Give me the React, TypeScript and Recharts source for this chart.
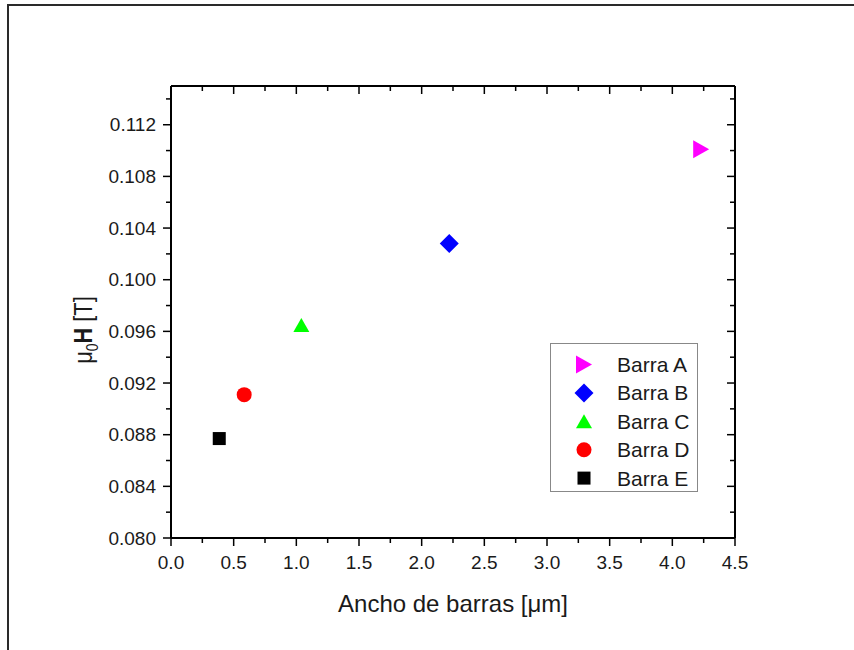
import React from "react";
import { ScatterChart, Scatter, XAxis, YAxis, Legend } from "recharts";

const seriesNames = ["Barra A", "Barra B", "Barra C", "Barra D", "Barra E"];
const seriesColors = ["#ff00ff", "#0000ff", "#00ff00", "#ff0000", "#000000"];
const seriesShapes = ["triangleRight", "diamond", "triangleUp", "circle", "square"];
const anchoBarras = [4.23, 2.22, 1.04, 0.584, 0.385];
const campoH = [0.1101, 0.1028, 0.0965, 0.0911, 0.0877];

const xMajorTicks = [0, 0.5, 1, 1.5, 2, 2.5, 3, 3.5, 4, 4.5];
const xMinorTicks = [0.25, 0.75, 1.25, 1.75, 2.25, 2.75, 3.25, 3.75, 4.25];
const yMajorTicks = [0.08, 0.084, 0.088, 0.092, 0.096, 0.1, 0.104, 0.108, 0.112];
const yMinorTicks = [0.082, 0.086, 0.09, 0.094, 0.098, 0.102, 0.106, 0.11, 0.114];
const xDomain: [number, number] = [0, 4.5];
const yDomain: [number, number] = [0.08, 0.115];

const xTitle = "Ancho de barras [\u03bcm]";

const FONT = "'Liberation Sans', Arial, Helvetica, sans-serif";
const TEXT = "#1a1a1a";
const MAJOR = 8;
const MINOR = 5;
const AXIS = { stroke: "#000", strokeWidth: 2 };

const allX = [...xMajorTicks, ...xMinorTicks].sort((a, b) => a - b);
const allY = [...yMajorTicks, ...yMinorTicks].sort((a, b) => a - b);
const isIn = (v: number, arr: number[]) => arr.some((t) => Math.abs(t - v) < 1e-9);

function Marker({ kind, cx, cy, color }: { kind: string; cx: number; cy: number; color: string }) {
  switch (kind) {
    case "triangleRight":
      return <polygon points={`${cx - 8},${cy - 9} ${cx + 8},${cy} ${cx - 8},${cy + 9}`} fill={color} />;
    case "diamond":
      return <polygon points={`${cx},${cy - 9.5} ${cx + 9.5},${cy} ${cx},${cy + 9.5} ${cx - 9.5},${cy}`} fill={color} />;
    case "triangleUp":
      return <polygon points={`${cx},${cy - 7} ${cx + 8},${cy + 7} ${cx - 8},${cy + 7}`} fill={color} />;
    case "circle":
      return <circle cx={cx} cy={cy} r={7.5} fill={color} />;
    default:
      return <rect x={cx - 6.5} y={cy - 6.5} width={13} height={13} fill={color} />;
  }
}

const BottomTick = (p: any) => {
  const { x, y, payload } = p;
  const major = isIn(payload.value, xMajorTicks);
  return (
    <g>
      <line x1={x} x2={x} y1={y} y2={y + (major ? MAJOR : MINOR)} stroke="#000" strokeWidth={1.5} />
      {major && (
        <text x={x} y={y + 31} textAnchor="middle" fontSize={19} fontFamily={FONT} fill={TEXT}>
          {Number(payload.value).toFixed(1)}
        </text>
      )}
    </g>
  );
};

const TopTick = (p: any) => {
  const { x, y, payload } = p;
  const major = isIn(payload.value, xMajorTicks);
  return (
    <g>
      <line x1={x} x2={x} y1={y} y2={y + (major ? MAJOR : MINOR)} stroke="#000" strokeWidth={1.5} />
    </g>
  );
};

const LeftTick = (p: any) => {
  const { x, y, payload } = p;
  const major = isIn(payload.value, yMajorTicks);
  return (
    <g>
      <line x1={x} x2={x - (major ? MAJOR : MINOR)} y1={y} y2={y} stroke="#000" strokeWidth={1.5} />
      {major && (
        <text x={x - 15} y={y + 6.5} textAnchor="end" fontSize={19} fontFamily={FONT} fill={TEXT}>
          {Number(payload.value).toFixed(3)}
        </text>
      )}
    </g>
  );
};

const RightTick = (p: any) => {
  const { x, y, payload } = p;
  const major = isIn(payload.value, yMajorTicks);
  return (
    <g>
      <line x1={x} x2={x - (major ? MAJOR : MINOR)} y1={y} y2={y} stroke="#000" strokeWidth={1.5} />
    </g>
  );
};

const XTitle = (props: any) => {
  const vb = props.viewBox || { x: 171, y: 538, width: 564, height: 60 };
  return (
    <text x={vb.x + vb.width / 2} y={vb.y + 74} textAnchor="middle" fontSize={24} fontFamily={FONT} fill={TEXT}>
      {xTitle}
    </text>
  );
};

const YTitle = (props: any) => {
  const vb = props.viewBox || { x: 71, y: 86, width: 100, height: 452 };
  const cx = vb.x + 21;
  const cy = vb.y + vb.height / 2 + 18;
  return (
    <g transform={`translate(${cx},${cy}) rotate(-90) scale(0.87,1)`}>
      <text x={0} y={0} textAnchor="middle" fontSize={25} fontFamily={FONT} fill={TEXT}>
        <tspan>{"\u03bc"}</tspan>
        <tspan fontSize={16} dy={6}>0</tspan>
        <tspan fontWeight="bold" dy={-6}>H</tspan>
        <tspan>{" [T]"}</tspan>
      </text>
    </g>
  );
};

const LegendBox = () => (
  <div
    style={{
      width: 148,
      height: 149,
      boxSizing: "border-box",
      border: "1px solid #888",
      background: "#fff",
    }}
  >
    <svg width={146} height={147} style={{ display: "block" }}>
      {seriesNames.map((name, i) => {
        const cy = 20.5 + 28.4 * i;
        return (
          <g key={name}>
            <Marker kind={seriesShapes[i]} cx={33} cy={cy} color={seriesColors[i]} />
            <text x={66} y={cy + 7.5} fontSize={21} fontFamily={FONT} fill={TEXT}>
              {name}
            </text>
          </g>
        );
      })}
    </svg>
  </div>
);

export default function App() {
  const series = seriesNames.map((name, i) => ({
    name,
    color: seriesColors[i],
    shape: seriesShapes[i],
    data: [{ x: anchoBarras[i], y: campoH[i] }],
  }));

  return (
    <div style={{ position: "absolute", left: 0, top: 0, width: 854, height: 650, background: "#fff" }}>
      <div
        style={{
          position: "absolute",
          left: 7,
          top: 4,
          width: 847,
          height: 646,
          borderLeft: "2px solid #2a2a2a",
          borderTop: "2px solid #2a2a2a",
          boxSizing: "border-box",
        }}
      />
      <div style={{ position: "absolute", left: 0, top: 0 }}>
        <ScatterChart width={854} height={650} margin={{ top: 85, right: 118, bottom: 52, left: 71 }}>
          <XAxis
            xAxisId="b"
            type="number"
            dataKey="x"
            orientation="bottom"
            domain={xDomain}
            allowDataOverflow
            ticks={allX}
            interval={0}
            height={60}
            tickSize={0}
            tickMargin={0}
            tickLine={false}
            tick={BottomTick}
            axisLine={AXIS}
            label={XTitle}
          />
          <XAxis
            xAxisId="t"
            type="number"
            dataKey="x"
            orientation="top"
            domain={xDomain}
            allowDataOverflow
            ticks={allX}
            interval={0}
            height={1}
            tickSize={0}
            tickMargin={0}
            tickLine={false}
            tick={TopTick}
            axisLine={AXIS}
          />
          <YAxis
            yAxisId="l"
            type="number"
            dataKey="y"
            orientation="left"
            domain={yDomain}
            allowDataOverflow
            ticks={allY}
            interval={0}
            width={100}
            tickSize={0}
            tickMargin={0}
            tickLine={false}
            tick={LeftTick}
            axisLine={AXIS}
            label={YTitle}
          />
          <YAxis
            yAxisId="r"
            type="number"
            dataKey="y"
            orientation="right"
            domain={yDomain}
            allowDataOverflow
            ticks={allY}
            interval={0}
            width={1}
            tickSize={0}
            tickMargin={0}
            tickLine={false}
            tick={RightTick}
            axisLine={AXIS}
          />
          <Legend
            layout="vertical"
            align="center"
            verticalAlign="middle"
            wrapperStyle={{ left: 550, top: 343, width: 148, height: 149 }}
            content={() => <LegendBox />}
          />
          {series.map((s) => (
            <Scatter
              key={s.name}
              name={s.name}
              data={s.data}
              xAxisId="b"
              yAxisId="l"
              fill={s.color}
              isAnimationActive={false}
              shape={(p: any) => <Marker kind={s.shape} cx={p.cx} cy={p.cy} color={s.color} />}
            />
          ))}
        </ScatterChart>
      </div>
    </div>
  );
}
